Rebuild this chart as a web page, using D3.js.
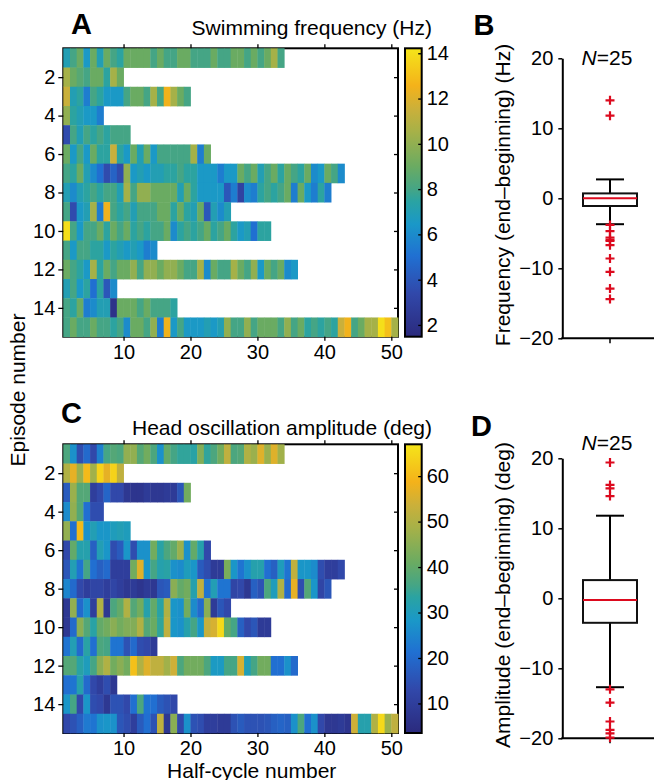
<!DOCTYPE html>
<html>
<head>
<meta charset="utf-8">
<script src="https://cdn.jsdelivr.net/npm/d3@7"></script>
<style>
  body { margin: 0; background: #fff; }
  text { font-family: "Liberation Sans", Arial, sans-serif; }
</style>
</head>
<body>
<div id="chart"></div>
<script>
"use strict";

/* Data: one array per episode, one value per half-cycle */
let freqRows = [
  [7,8,9,6.5,9,7,9,8,7.5,9,9,9,9,8,9,8,8,9,9,8,8,8,9,8,8,9,9,8,9,8,9,10.5,8],
  [10.5,9,8.5,8,9,9,7.5,10.5,9],
  [11.5,7,7.5,5.5,8,7.5,6.5,6.5,6.5,8,9,9,8,10.5,8,12.5,10.5,9,8],
  [10,7.5,7,6.5,6.5,5.5],
  [3.5,8,7,8,7.5,8,7.5,8,8,8],
  [9,6.5,8,6.5,9,7.5,7.5,11.5,7.5,6.5,9,7,9,6.5,8,8,8,8,8,10.5,5.5,9],
  [8,7.5,9,7,6,5,3.5,4.5,3.5,10,6.5,7,6.5,7,7,7.5,7.5,8,7.5,7.5,6.5,6.5,6.5,5.5,6.5,6.5,9,8,9,7,8,9,7.5,9,8,7.5,9,6,6.5,9,8,6],
  [7,6,7,7.5,8,7.5,8,8,7,10.5,8,10,10,9,9,9,9,7,9,7.5,6.5,6.5,6.5,6.5,4,5.5,3,6,5.5,7.5,8,7.5,8,9,5.5,9,6.5,5.5,7.5,5.5],
  [8,3.5,6.5,7,10.5,5.5,12.5,8,7.5,8,7,8,8,8,9,9,7.5,9,7.5,7,9,4,7,6,7],
  [14,8,6.5,8,8,9,7.5,9,8,9,7.5,8,7.5,8,8,9,6,7.5,8,7.5,8,9,7.5,8,9,7.5,6.5,7,5,7.5,7.5],
  [8,6.5,8,8,7.5,7.5,6.5,7.5,7,6.5,7,6.5,5.5,6],
  [9,8,7.5,6.5,10.5,7.5,9,8,9,9,10,8,10,10,9,10,10,9,8,8,10.5,6,9,8,8,10.5,9,8,10,6.5,9,8,9,6,6.5],
  [7,8,6.5,7.5,5,7.5,4,6],
  [8,7.5,9,5.5,6,7,7,2,9,9,9,8,9,8,8,8,7.5],
  [8,9,8,8,9,8,8,7.5,8,6,9,9,8,10,5.5,12.5,6.5,8,6.5,6.5,6.5,7,6.5,7,10,8,8,10,8,9,9,9,8,10,8,9,7.5,8,7.5,8,7.5,11.5,12.5,8,9,10.5,10.5,14,13,10.5]
];

let ampRows = [
  [37,27,14,20,13,24,36,38,37,46,46,38,42,37,27,40,36,34,34,33,44,34,37,42,52,37,38,50,47,56,47,56,48],
  [50,57,47,60,48,64,57,64,52],
  [17,47,38,38,10,13,19,13,13,8,7,7,9,8,8,9,9,16,42],
  [26,46,38,21,14,14],
  [46,21,60,27,31,28,28,30,31,30],
  [13,40,32,32,18,31,28,14,17,28,14,27,27,42,33,37,40,47,27,40,32,13],
  [16,31,22,36,21,18,20,10,10,10,42,56,28,36,32,33,27,26,30,28,17,14,9,9,43,28,22,27,32,32,21,18,30,22,52,28,28,26,14,10,10,13],
  [25,20,13,10,12,12,10,12,10,8,9,7,9,8,16,17,45,40,42,32,52,22,31,22,22,12,13,8,18,15,37,30,50,20,57,14,38,28,12,16],
  [8,46,20,27,10,50,8,37,40,50,38,42,32,40,33,50,28,27,42,26,20,45,9,16,13],
  [8,20,45,38,33,40,42,45,42,44,44,50,38,41,34,52,28,27,32,36,28,53,55,65,40,36,18,13,16,9,9],
  [22,31,20,33,21,37,36,22,22,15,20,14,13,9],
  [38,38,33,30,36,45,50,42,45,42,61,50,56,52,52,48,54,37,42,42,42,37,29,29,36,36,55,31,36,42,42,21,21,27,20],
  [21,22,32,20,13,10,14,8],
  [28,36,13,28,14,13,8,15,15,13,21,37,22,21,17,15,13],
  [13,15,18,23,22,27,28,27,16,14,10,17,21,15,52,8,45,13,27,15,14,10,10,9,9,15,17,15,15,15,16,18,19,18,27,37,21,27,13,8,8,9,7,54,32,32,50,65,47,52]
];

let episodeTicks = [2, 4, 6, 8, 10, 12, 14];
let halfCycleTicks = [10, 20, 30, 40, 50];
let freqColorTicks = [2, 4, 6, 8, 10, 12, 14];
let ampColorTicks = [10, 20, 30, 40, 50, 60];
let freqColorRange = [1.48, 14.22];
let ampColorRange = [3.5, 67];

// box plots: [lower whisker, q1, median, q3, upper whisker]
let freqBox = [-3.7, -1.1, 0, 0.7, 2.7];
let freqOutliers = [14.0, 11.8, -3.8, -4.7, -5.6, -5.9, -6.1, -6.7, -8.6, -10.5, -12.9, -14.4];
let ampBox = [-12.7, -3.5, -0.25, 2.6, 11.8];
let ampOutliers = [19.4, 16.2, 15.7, 14.6, -13.0, -14.9, -17.6, -18.8, -19.3, -19.9];
let diffTicks = [-20, -10, 0, 10, 20];

/* Drawing setup */
let svgWidth = 654;
let svgHeight = 780;
let fontSize = 20;     // tick labels
let labelSize = 21;    // titles and axis labels
let red = "#dc0a1e";

let svg = d3.select("#chart").append("svg")
  .attr("width", svgWidth)
  .attr("height", svgHeight);

// parula-like colour map, sampled off the printed colour bar
let cmapStops = [0, 0.15, 0.28, 0.39, 0.47, 0.51, 0.59, 0.71, 0.79, 0.87, 1];
let cmapColors = ["#2b2a7d", "#3148aa", "#2070d2", "#1a98c8", "#2aa3a2", "#44a586",
  "#6aab62", "#a6b148", "#cbb03a", "#f4b21a", "#f5e51a"];
let cmap = d3.scaleLinear().domain(cmapStops).range(cmapColors).clamp(true);

let defs = svg.append("defs");
let grad = defs.append("linearGradient")
  .attr("id", "parula")
  .attr("x1", 0).attr("y1", 1).attr("x2", 0).attr("y2", 0);
for (let i = 0; i < cmapStops.length; i++) {
  grad.append("stop").attr("offset", cmapStops[i]).attr("stop-color", cmapColors[i]);
}

let xScale = d3.scaleLinear().domain([1, 51]).range([63.3, 398]);

function styleAxis(g) {
  g.select(".domain").remove();
  g.selectAll("line").attr("stroke", "#000").attr("stroke-width", 1.3);
  g.selectAll("text").attr("font-size", fontSize).attr("fill", "#000")
    .attr("font-family", "Liberation Sans, Arial, sans-serif");
}

function drawHeatmap(rows, top, bottom, colorRange, colorTicks, title, titleY) {
  let yScale = d3.scaleLinear().domain([0.5, 15.5]).range([top, bottom]);
  let tScale = d3.scaleLinear().domain(colorRange).range([0, 1]);

  // axes box (under the cells)
  svg.append("rect")
    .attr("x", xScale(1)).attr("y", top)
    .attr("width", xScale(51) - xScale(1)).attr("height", bottom - top)
    .attr("fill", "none").attr("stroke", "#000").attr("stroke-width", 2);

  let g = svg.append("g");
  rows.forEach(function (row, r) {
    g.selectAll(null)
      .data(row)
      .enter()
      .append("rect")
      .attr("x", function (d, j) { return xScale(j + 1); })
      .attr("y", yScale(r + 0.5))
      .attr("width", xScale(2) - xScale(1) + 0.4)
      .attr("height", yScale(1.5) - yScale(0.5) + 0.4)
      .attr("fill", function (d) { return cmap(tScale(d)); });
  });

  // ticks
  svg.append("g").attr("transform", "translate(0," + bottom + ")")
    .call(d3.axisBottom(xScale).tickValues(halfCycleTicks).tickSize(4).tickPadding(4).tickSizeOuter(0))
    .call(styleAxis);
  svg.append("g").attr("transform", "translate(0," + top + ")")
    .call(d3.axisTop(xScale).tickValues(halfCycleTicks).tickSize(4).tickFormat("").tickSizeOuter(0))
    .call(styleAxis);
  svg.append("g").attr("transform", "translate(" + xScale(1) + ",0)")
    .call(d3.axisLeft(yScale).tickValues(episodeTicks).tickSize(5).tickPadding(3).tickSizeOuter(0))
    .call(styleAxis);
  svg.append("g").attr("transform", "translate(" + xScale(51) + ",0)")
    .call(d3.axisRight(yScale).tickValues(episodeTicks).tickSize(-4).tickFormat("").tickSizeOuter(0))
    .call(styleAxis);

  // colour bar
  let cScale = d3.scaleLinear().domain(colorRange).range([bottom, top]);
  svg.append("rect")
    .attr("x", 405).attr("y", top)
    .attr("width", 16.7).attr("height", bottom - top)
    .attr("fill", "url(#parula)")
    .attr("stroke", "#000").attr("stroke-width", 2);
  svg.append("g").attr("transform", "translate(421.7,0)")
    .call(d3.axisRight(cScale).tickValues(colorTicks).tickSize(-3.5).tickPadding(5).tickSizeOuter(0))
    .call(styleAxis);

  svg.append("text")
    .attr("x", 432).attr("y", titleY)
    .attr("text-anchor", "end")
    .attr("font-size", labelSize)
    .text(title);
}

function drawBox(stats, outliers, top, bottom, nY) {
  let yScale = d3.scaleLinear().domain([-20, 20]).range([bottom, top]);
  let axisX = 562.3;
  let cx = 610;

  svg.append("g").attr("transform", "translate(" + axisX + ",0)")
    .call(d3.axisLeft(yScale).tickValues(diffTicks).tickSize(4).tickPadding(5).tickSizeOuter(0))
    .call(function (g) {
      g.select(".domain").attr("stroke", "#000").attr("stroke-width", 2);
      g.selectAll(".tick line").attr("stroke", "#000").attr("stroke-width", 1.5);
      g.selectAll("text").attr("font-size", fontSize).attr("fill", "#000")
        .attr("font-family", "Liberation Sans, Arial, sans-serif");
    });

  // bottom axis line with one tick
  svg.append("line")
    .attr("x1", axisX - 1).attr("x2", svgWidth)
    .attr("y1", bottom).attr("y2", bottom)
    .attr("stroke", "#000").attr("stroke-width", 2);
  svg.append("line")
    .attr("x1", cx).attr("x2", cx)
    .attr("y1", bottom).attr("y2", bottom + 5)
    .attr("stroke", "#000").attr("stroke-width", 1.5);

  // whiskers
  svg.append("line")
    .attr("x1", cx).attr("x2", cx)
    .attr("y1", yScale(stats[0])).attr("y2", yScale(stats[4]))
    .attr("stroke", "#000").attr("stroke-width", 2);
  [stats[0], stats[4]].forEach(function (v) {
    svg.append("line")
      .attr("x1", cx - 14).attr("x2", cx + 14)
      .attr("y1", yScale(v)).attr("y2", yScale(v))
      .attr("stroke", "#000").attr("stroke-width", 2);
  });

  // box
  svg.append("rect")
    .attr("x", cx - 27).attr("width", 54)
    .attr("y", yScale(stats[3]))
    .attr("height", yScale(stats[1]) - yScale(stats[3]))
    .attr("fill", "#fff").attr("stroke", "#111").attr("stroke-width", 2);
  svg.append("line")
    .attr("x1", cx - 27).attr("x2", cx + 27)
    .attr("y1", yScale(stats[2])).attr("y2", yScale(stats[2]))
    .attr("stroke", red).attr("stroke-width", 2);

  // outliers as "+"
  svg.append("g").selectAll("path")
    .data(outliers)
    .enter()
    .append("path")
    .attr("d", function (d) {
      let y = yScale(d);
      return "M" + (cx - 4.5) + "," + y + "H" + (cx + 4.5) + "M" + cx + "," + (y - 4.5) + "V" + (y + 4.5);
    })
    .attr("stroke", red).attr("stroke-width", 2.2).attr("fill", "none");

  let nText = svg.append("text")
    .attr("x", 607).attr("y", nY)
    .attr("text-anchor", "middle")
    .attr("font-size", labelSize);
  nText.append("tspan").attr("font-style", "italic").text("N");
  nText.append("tspan").text("=25");
}

drawHeatmap(freqRows, 48.3, 336.7, freqColorRange, freqColorTicks, "Swimming frequency (Hz)", 35);
drawHeatmap(ampRows, 444.3, 733, ampColorRange, ampColorTicks, "Head oscillation amplitude (deg)", 435);

drawBox(freqBox, freqOutliers, 58.3, 338.3, 65);
drawBox(ampBox, ampOutliers, 458.3, 738.3, 450);

/* Axis labels */
svg.append("text")
  .attr("transform", "translate(25,390) rotate(-90)")
  .attr("text-anchor", "middle")
  .attr("font-size", labelSize)
  .text("Episode number");

svg.append("text")
  .attr("x", 251.7).attr("y", 777.5)
  .attr("text-anchor", "middle")
  .attr("font-size", labelSize)
  .text("Half-cycle number");

svg.append("text")
  .attr("transform", "translate(510,195) rotate(-90)")
  .attr("text-anchor", "middle")
  .attr("font-size", labelSize)
  .text("Frequency (end\u2013beginning) (Hz)");

svg.append("text")
  .attr("transform", "translate(510,595) rotate(-90)")
  .attr("text-anchor", "middle")
  .attr("font-size", labelSize)
  .text("Amplitude (end\u2013beginning) (deg)");

/* Panel letters */
let letters = [["A", 71, 33.5], ["B", 473.5, 35], ["C", 61, 423], ["D", 471, 435.5]];
letters.forEach(function (l) {
  svg.append("text")
    .attr("x", l[1]).attr("y", l[2])
    .attr("font-size", 29)
    .attr("font-weight", "bold")
    .text(l[0]);
});
</script>
</body>
</html>
